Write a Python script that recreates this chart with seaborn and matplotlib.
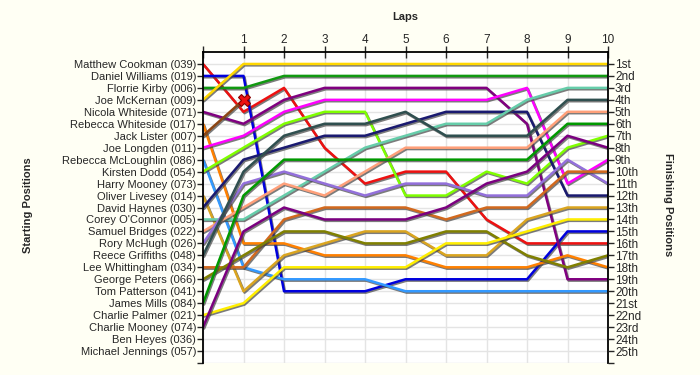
import numpy as np
import pandas as pd
import matplotlib
matplotlib.use("Agg")
import matplotlib.pyplot as plt
import matplotlib.patheffects as pe
import seaborn as sns

# starting grid, top to bottom
starting_grid = [
    "Matthew Cookman (039)", "Daniel Williams (019)", "Florrie Kirby (006)",
    "Joe McKernan (009)", "Nicola Whiteside (071)", "Rebecca Whiteside (017)",
    "Jack Lister (007)", "Joe Longden (011)", "Rebecca McLoughlin (086)",
    "Kirsten Dodd (054)", "Harry Mooney (073)", "Oliver Livesey (014)",
    "David Haynes (030)", "Corey O'Connor (005)", "Samuel Bridges (022)",
    "Rory McHugh (026)", "Reece Griffiths (048)", "Lee Whittingham (034)",
    "George Peters (066)", "Tom Patterson (041)", "James Mills (084)",
    "Charlie Palmer (021)", "Charlie Mooney (074)", "Ben Heyes (036)",
    "Michael Jennings (057)",
]
finish_labels = ["1st", "2nd", "3rd"] + [f"{i}th" for i in range(4, 21)] + \
    ["21st", "22nd", "23rd", "24th", "25th"]
laps = list(range(0, 11))

# position at the end of each lap (lap 0 = grid)
cookman = [1, 5, 3, 8, 11, 10, 10, 14, 16, 16, 16]
williams = [2, 2, 20, 20, 20, 19, 19, 19, 19, 15, 15]
kirby = [3, 3, 2, 2, 2, 2, 2, 2, 2, 2, 2]
mckernan = [4, 1, 1, 1, 1, 1, 1, 1, 1, 1, 1]
n_whiteside = [5, 6, 4, 3, 3, 3, 3, 3, 6, 19, 19]
r_whiteside = [6, 16, 16, 17, 17, 17, 18, 18, 18, 17, 18]
lister = [7, 4]
longden = [8, 7, 5, 4, 4, 4, 4, 4, 3, 11, 9]
mcloughlin = [9, 18, 19, 19, 19, 20, 20, 20, 20, 20, 20]
dodd = [10, 8, 6, 5, 5, 12, 12, 10, 11, 8, 7]
livesey = [12, 20, 17, 16, 15, 15, 17, 17, 14, 13, 13]
haynes = [13, 9, 8, 7, 7, 6, 5, 5, 5, 12, 12]
oconnor = [14, 14, 12, 10, 8, 7, 6, 6, 4, 3, 3]
bridges = [15, 13, 11, 12, 10, 8, 8, 8, 8, 5, 5]
mchugh = [16, 11, 10, 11, 12, 11, 11, 12, 12, 9, 11]
griffiths = [17, 10, 7, 6, 6, 5, 7, 7, 7, 4, 4]
whittingham = [18, 18, 14, 13, 13, 13, 14, 13, 13, 10, 10]
peters = [19, 17, 15, 15, 16, 16, 15, 15, 17, 18, 17]
mills = [21, 12, 9, 9, 9, 9, 9, 9, 9, 6, 6]
palmer = [22, 21, 18, 18, 18, 18, 16, 16, 15, 14, 14]
c_mooney = [23, 15, 13, 14, 14, 14, 13, 11, 10, 7, 8]

drivers = {
    "Matthew Cookman (039)": (cookman, "#EE1111"),
    "Daniel Williams (019)": (williams, "#0000DD"),
    "Florrie Kirby (006)": (kirby, "#119911"),
    "Joe McKernan (009)": (mckernan, "#FFD700"),
    "Nicola Whiteside (071)": (n_whiteside, "#800080"),
    "Rebecca Whiteside (017)": (r_whiteside, "#FF8000"),
    "Jack Lister (007)": (lister, "#8B4513"),
    "Joe Longden (011)": (longden, "#FF00FF"),
    "Rebecca McLoughlin (086)": (mcloughlin, "#3399FF"),
    "Kirsten Dodd (054)": (dodd, "#7FFF00"),
    "Oliver Livesey (014)": (livesey, "#DAA520"),
    "David Haynes (030)": (haynes, "#1A1A70"),
    "Corey O'Connor (005)": (oconnor, "#66CDAA"),
    "Samuel Bridges (022)": (bridges, "#FFA07A"),
    "Rory McHugh (026)": (mchugh, "#9370DB"),
    "Reece Griffiths (048)": (griffiths, "#2F4F4F"),
    "Lee Whittingham (034)": (whittingham, "#D2691E"),
    "George Peters (066)": (peters, "#808000"),
    "James Mills (084)": (mills, "#009900"),
    "Charlie Palmer (021)": (palmer, "#FFEE00"),
    "Charlie Mooney (074)": (c_mooney, "#7B0080"),
}

rows = []
for name, (pos, _) in drivers.items():
    for lap, p in zip(laps, pos):
        rows.append({"driver": name, "lap": lap, "position": p})
df = pd.DataFrame(rows)
palette = {name: c for name, (_, c) in drivers.items()}

sns.set_style("white")
plt.rcParams["font.family"] = ["Liberation Sans", "DejaVu Sans"]

bg = "#FFFFF4"
fig = plt.figure(figsize=(7, 3.75), dpi=100, facecolor=bg)
ax = fig.add_axes([203 / 700, 1 - 363 / 375, 405 / 700, 311 / 375])
ax.set_facecolor("white")

sns.lineplot(data=df, x="lap", y="position", hue="driver", palette=palette,
             estimator=None, sort=False, legend=False, linewidth=1.8, ax=ax)
for line in ax.lines:
    line.set_path_effects([pe.SimpleLineShadow(offset=(0.8, -1.0), shadow_color="#444444", alpha=0.7),
                           pe.Normal()])

# crash marker for Jack Lister
ax.plot(laps[len(lister) - 1], lister[-1], marker="X", markersize=9,
        color="#EE1111", markeredgecolor="#880000", markeredgewidth=0.8, zorder=5)

ax.set_xlim(0, 10)
ax.set_ylim(26, 0)

# laps along the top
ax.xaxis.tick_top()
ax.set_xticks(laps)
ax.set_xticklabels([""] + [str(i) for i in laps[1:]], fontsize=8.5)
ax.tick_params(axis="x", direction="inout", length=8, width=1, pad=0)
ax.set_xlabel("")

ax.set_yticks(range(1, 27))
ax.set_yticklabels(starting_grid + [""], fontsize=8)
ax.tick_params(axis="y", direction="out", length=4, width=1, pad=1)
ax.set_ylabel("")

ax.grid(True, color="#E4E4E4", linewidth=1)
ax.set_axisbelow(True)
for side in ["left", "right", "top"]:
    ax.spines[side].set_color("black")
    ax.spines[side].set_linewidth(1.3)
ax.spines["bottom"].set_visible(False)

ax2 = ax.twinx()
ax2.set_ylim(26, 0)
ax2.set_yticks(range(1, 27))
ax2.set_yticklabels(finish_labels + [""], fontsize=8.5)
ax2.tick_params(axis="y", direction="out", length=4, width=1, pad=1)
for side in ["left", "right", "top", "bottom"]:
    ax2.spines[side].set_visible(False)

fig.text(405 / 700, 1 - 17 / 375, "Laps", ha="center", va="center",
         fontsize=8, fontweight="bold")
fig.text(28 / 700, 1 - 205 / 375, "Starting Positions", ha="center", va="center",
         rotation=90, fontsize=8, fontweight="bold")
fig.text(668 / 700, 1 - 205 / 375, "Finishing Positions", ha="center", va="center",
         rotation=270, fontsize=8, fontweight="bold")

fig.savefig("out.png", dpi=100, facecolor=bg)
